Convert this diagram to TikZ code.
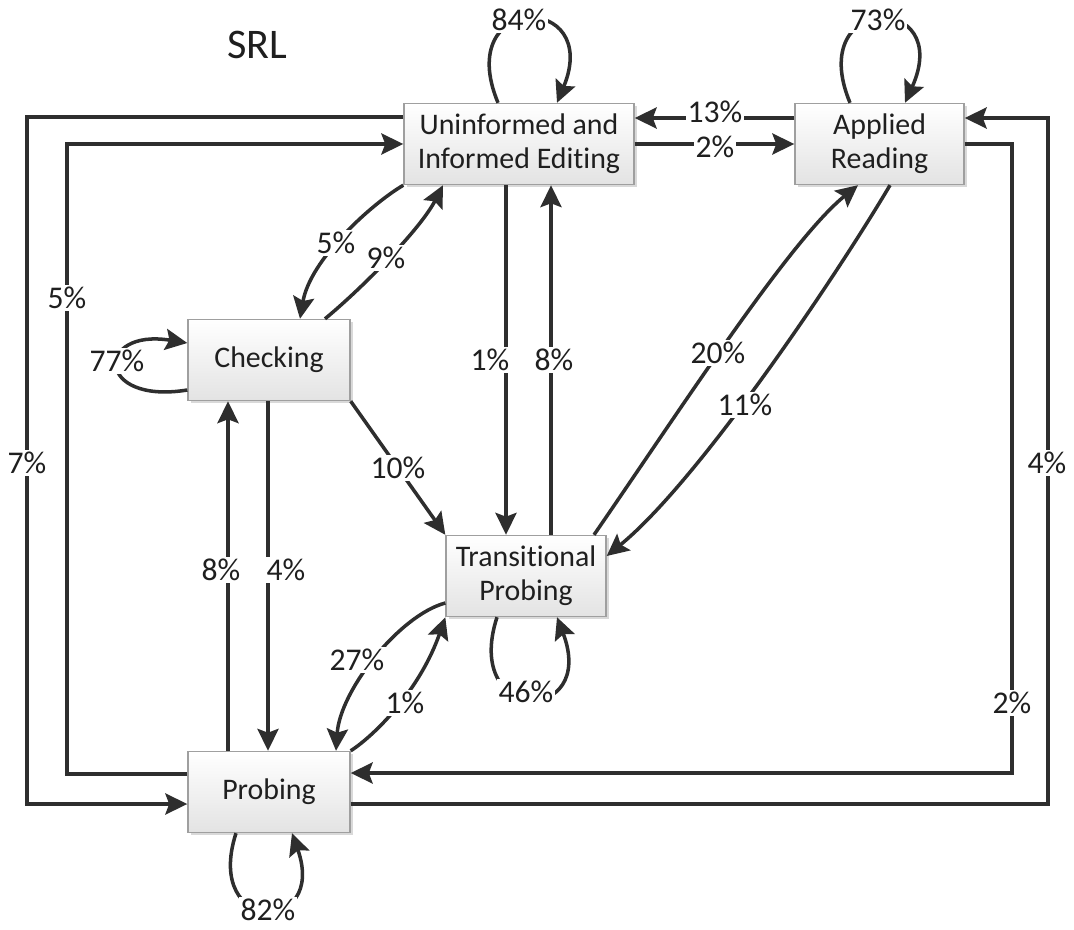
\documentclass[tikz,border=0pt]{standalone}
\usepackage{fontspec}
\setmainfont{Carlito}[Ligatures=NoCommon]
\usepackage{xcolor}
\usetikzlibrary{arrows.meta,shadows}

\begin{document}
\begin{tikzpicture}[
    x=0.02cm, y=-0.02cm,
    box/.style={rectangle, draw=gray!75, line width=0.8pt, top color=white, bottom color=gray!22,
      drop shadow={shadow xshift=1.5pt, shadow yshift=-1.5pt, opacity=0.3},
      align=center, minimum height=1.62cm, inner sep=2pt, text=black!88,
      font=\fontsize{17}{19.5}\selectfont},
    arrow/.style={-{Stealth[length=12.5pt,width=12pt,inset=2.2pt]}, line width=2pt, draw=black!82},
    pct/.style={fill=white, inner sep=1pt, text=black!88, font=\fontsize{18}{20}\selectfont}
  ]
    \useasboundingbox (0,0) rectangle (1074,929);

    \node[font=\fontsize{24}{26}\selectfont, text=black!88] (title) at (257,45) {SRL};
    \node[box, minimum width=4.6cm] (uie) at (519,144) {Uninformed and\\Informed Editing};
    \node[box, minimum width=3.38cm] (ar) at (879.5,144) {Applied\\Reading};
    \node[box, minimum width=3.24cm] (chk) at (269,360) {Checking};
    \node[box, minimum width=3.2cm] (tp) at (526,576) {Transitional\\Probing};
    \node[box, minimum width=3.24cm] (prb) at (269,792) {Probing};

    % top row
    \draw[arrow] (ar.west |- 0,118) -- (uie.east |- 0,118) node[pct] at (715,112) {13\%};
    \draw[arrow] (uie.east |- 0,144) -- (ar.west |- 0,144) node[pct] at (715,147) {2\%};

    % self loops
    \draw[arrow] (uie.north -| 498,0) .. controls (452,-8) and (603,-8) .. (uie.north -| 557,0)
      node[pct] at (519,20) {84\%};
    \draw[arrow] (ar.north -| 850,0) .. controls (804,-8) and (955,-8) .. (ar.north -| 905,0)
      node[pct] at (878,20) {73\%};
    \draw[arrow] (chk.west |- 0,390) .. controls (95,405) and (95,328) .. (chk.west |- 0,343)
      node[pct] at (117,361) {77\%};
    \draw[arrow] (tp.south -| 497,0) .. controls (462,725) and (598,725) .. (tp.south -| 557,0)
      node[pct] at (526,692) {46\%};
    \draw[arrow] (prb.south -| 236,0) .. controls (203,935) and (328,935) .. (prb.south -| 292,0)
      node[pct] at (268,910) {82\%};

    % editing and checking
    \draw[arrow] (uie.south west) .. controls (370,205) and (310,260) .. (chk.north -| 300,0)
      node[pct] at (336,243) {5\%};
    \draw[arrow] (chk.north -| 325,0) .. controls (360,290) and (420,230) .. (uie.south -| 443,0)
      node[pct] at (386,258) {9\%};
    \draw[arrow] (uie.south -| 506,0) -- (tp.north -| 506,0) node[pct] at (490,360) {1\%};
    \draw[arrow] (tp.north -| 551,0) -- (uie.south -| 551,0) node[pct] at (554,360) {8\%};
    \draw[arrow] (chk.south east) -- (tp.north west) node[pct, midway] {10\%};

    % reading and transitional probing
    \draw[arrow] (tp.north -| 594,0) .. controls (680,410) and (790,240) .. (ar.south -| 858,0)
      node[pct] at (718,353) {20\%};
    \draw[arrow] (ar.south -| 890,0) .. controls (840,270) and (700,480) .. (tp.east |- 0,556)
      node[pct] at (745,405) {11\%};

    % probing
    \draw[arrow] (chk.south -| 268,0) -- (prb.north -| 268,0) node[pct] at (286,570) {4\%};
    \draw[arrow] (prb.north -| 228,0) -- (chk.south -| 228,0) node[pct] at (221,570) {8\%};
    \draw[arrow] (tp.west |- 0,603) .. controls (400,615) and (340,690) .. (prb.north -| 336,0)
      node[pct] at (357,660) {27\%};
    \draw[arrow] (prb.north east) .. controls (375,735) and (420,690) .. (tp.south west)
      node[pct] at (405,703) {1\%};

    % outer loops
    \draw[arrow] (uie.west |- 0,117) -- (27,117) -- (27,804) -- (prb.west |- 0,804)
      node[pct] at (27,463) {7\%};
    \draw[arrow] (prb.west |- 0,774) -- (67,774) -- (67,144) -- (uie.west |- 0,144)
      node[pct] at (67,298) {5\%};
    \draw[arrow] (ar.east |- 0,144) -- (1012,144) -- (1012,773) -- (prb.east |- 0,773)
      node[pct] at (1012,703) {2\%};
    \draw[arrow] (prb.east |- 0,804) -- (1048,804) -- (1048,118) -- (ar.east |- 0,118)
      node[pct] at (1047,463) {4\%};
  \end{tikzpicture}
\end{document}
